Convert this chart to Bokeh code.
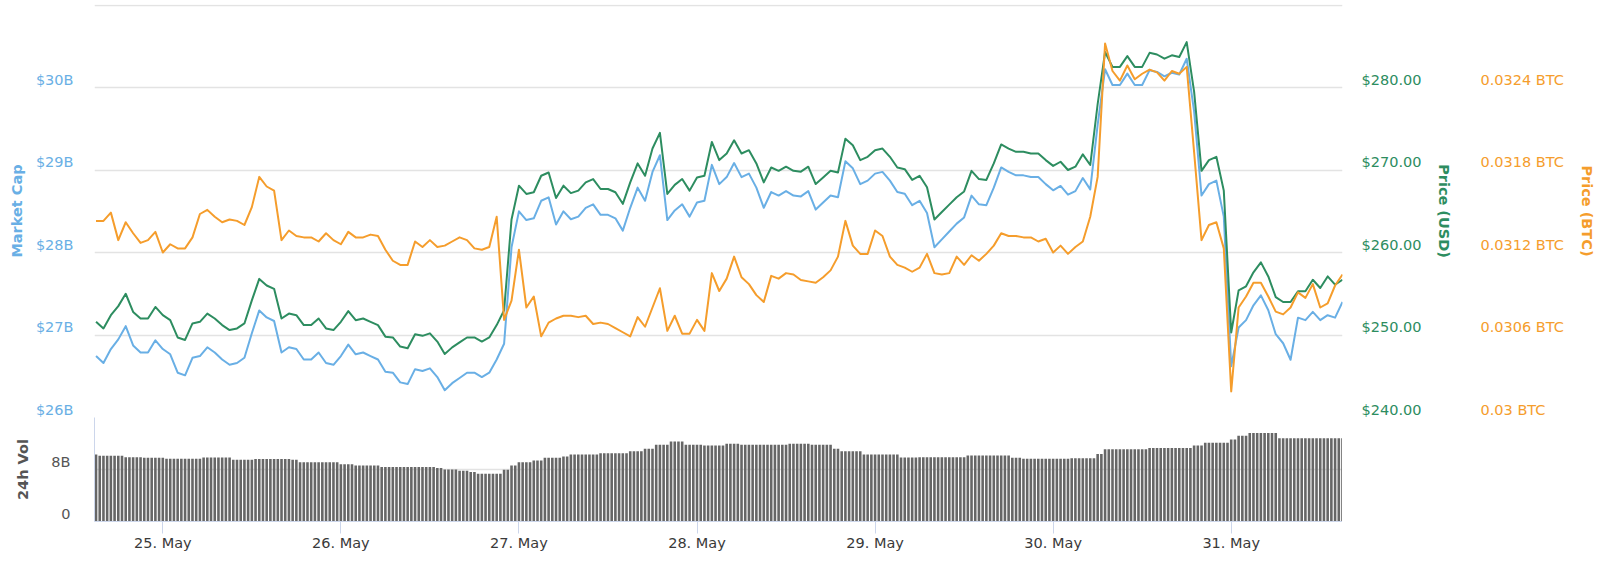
from datetime import datetime, timedelta

from bokeh.plotting import figure
from bokeh.models import (Range1d, LinearAxis, FixedTicker, CustomJSTickFormatter,
                          DatetimeTickFormatter)
from bokeh.layouts import column
from bokeh.embed import file_html
from bokeh.resources import INLINE

# ---------------- data (hourly, from 24 May 15:00) ----------------
start_time = datetime(2019, 5, 24, 15, 0)

price_usd = [
    251.6, 250.8, 252.4, 253.5, 255.0, 252.8, 252.0, 252.0, 253.4, 252.4,
    251.8, 249.7, 249.4, 251.4, 251.6, 252.6, 252.0, 251.2, 250.6, 250.8,
    251.4, 254.2, 256.8, 256.0, 255.6, 252.0, 252.6, 252.4, 251.2, 251.2,
    252.0, 250.8, 250.6, 251.6, 252.9, 251.8, 252.0, 251.6, 251.2, 249.8,
    249.7, 248.6, 248.4, 250.1, 249.9, 250.2, 249.2, 247.7, 248.5, 249.1,
    249.7, 249.7, 249.2, 249.7, 251.2, 253.0, 264.0, 268.1, 267.1, 267.3,
    269.3, 269.7, 266.6, 268.1, 267.2, 267.5, 268.5, 268.9, 267.7, 267.7,
    267.3, 265.9, 268.5, 270.8, 269.3, 272.6, 274.5, 267.1, 268.2, 268.9,
    267.5, 269.1, 269.3, 273.4, 271.2, 272.0, 273.6, 272.0, 272.4, 270.8,
    268.5, 270.3, 269.9, 270.4, 269.9, 269.8, 270.4, 268.3, 269.1, 269.9,
    269.7, 273.8, 273.0, 271.2, 271.6, 272.4, 272.6, 271.6, 270.3, 270.1,
    268.8, 269.3, 267.9, 264.0, 264.9, 265.8, 266.7, 267.4, 269.9, 268.9,
    268.8, 270.8, 273.1, 272.6, 272.2, 272.2, 272.0, 272.0, 271.2, 270.5,
    271.0, 270.0, 270.4, 271.9, 270.6, 278.0, 284.3, 282.5, 282.5, 283.8,
    282.5, 282.5, 284.2, 284.0, 283.5, 283.9, 283.7, 285.5, 279.5, 269.9,
    271.2, 271.6, 267.5, 250.3, 255.4, 255.9, 257.6, 258.8, 257.1, 254.6,
    254.0, 254.0, 255.3, 255.3, 256.7, 255.7, 257.1, 256.1, 256.7,
]

# market cap in billions of USD
market_cap_b = [
    26.745, 26.660, 26.830, 26.947, 27.107, 26.873, 26.788, 26.788, 26.936, 26.830,
    26.766, 26.543, 26.511, 26.724, 26.745, 26.851, 26.788, 26.703, 26.639, 26.660,
    26.724, 27.021, 27.298, 27.213, 27.170, 26.788, 26.851, 26.830, 26.703, 26.703,
    26.788, 26.660, 26.639, 26.745, 26.883, 26.766, 26.788, 26.745, 26.703, 26.554,
    26.543, 26.426, 26.405, 26.586, 26.564, 26.596, 26.490, 26.331, 26.416, 26.479,
    26.543, 26.543, 26.490, 26.543, 26.703, 26.894, 28.063, 28.499, 28.393, 28.414,
    28.627, 28.669, 28.340, 28.499, 28.403, 28.435, 28.542, 28.584, 28.457, 28.457,
    28.414, 28.265, 28.542, 28.786, 28.627, 28.977, 29.179, 28.393, 28.510, 28.584,
    28.435, 28.605, 28.627, 29.062, 28.829, 28.914, 29.084, 28.914, 28.956, 28.786,
    28.542, 28.733, 28.690, 28.744, 28.690, 28.680, 28.744, 28.520, 28.605, 28.690,
    28.669, 29.105, 29.020, 28.829, 28.871, 28.956, 28.977, 28.871, 28.733, 28.712,
    28.573, 28.627, 28.478, 28.063, 28.159, 28.255, 28.350, 28.425, 28.690, 28.584,
    28.573, 28.786, 29.031, 28.977, 28.935, 28.935, 28.914, 28.914, 28.829, 28.754,
    28.807, 28.701, 28.744, 28.903, 28.765, 29.551, 30.221, 30.030, 30.030, 30.168,
    30.030, 30.030, 30.210, 30.189, 30.136, 30.179, 30.157, 30.349, 29.711, 28.690,
    28.829, 28.871, 28.435, 26.620, 27.090, 27.180, 27.360, 27.480, 27.300, 27.010,
    26.900, 26.700, 27.210, 27.180, 27.280, 27.180, 27.240, 27.210, 27.400,
]

price_btc = [
    0.03143, 0.03143, 0.03149, 0.03129, 0.03142, 0.03134, 0.03127, 0.03129, 0.03135, 0.03120,
    0.03126, 0.03123, 0.03123, 0.03131, 0.03148, 0.03151, 0.03146, 0.03142, 0.03144, 0.03143,
    0.03140, 0.03153, 0.03175, 0.03168, 0.03165, 0.03129, 0.03136, 0.03132, 0.03131, 0.03131,
    0.03128, 0.03134, 0.03129, 0.03126, 0.03135, 0.03131, 0.03131, 0.03133, 0.03132, 0.03122,
    0.03114, 0.03111, 0.03111, 0.03128, 0.03124, 0.03129, 0.03124, 0.03125, 0.03128, 0.03131,
    0.03129, 0.03123, 0.03122, 0.03124, 0.03146, 0.03071, 0.03085, 0.03122, 0.03080, 0.03088,
    0.03059, 0.03069, 0.03072, 0.03074, 0.03074, 0.03073, 0.03074, 0.03068, 0.03069, 0.03068,
    0.03065, 0.03062, 0.03059, 0.03073, 0.03066, 0.03080, 0.03094, 0.03063, 0.03074, 0.03061,
    0.03061, 0.03071, 0.03063, 0.03105, 0.03092, 0.03101, 0.03117, 0.03102, 0.03097, 0.03089,
    0.03084, 0.03103, 0.03101, 0.03105, 0.03104, 0.03100, 0.03099, 0.03098, 0.03102, 0.03107,
    0.03117, 0.03143, 0.03125, 0.03119, 0.03119, 0.03136, 0.03132, 0.03117, 0.03111, 0.03109,
    0.03106, 0.03109, 0.03119, 0.03105, 0.03104, 0.03105, 0.03117, 0.03111, 0.03118, 0.03114,
    0.03119, 0.03125, 0.03134, 0.03132, 0.03132, 0.03131, 0.03131, 0.03128, 0.03130, 0.03120,
    0.03125, 0.03119, 0.03124, 0.03128, 0.03146, 0.03175, 0.03272, 0.03252, 0.03245, 0.03256,
    0.03246, 0.03250, 0.03253, 0.03251, 0.03245, 0.03252, 0.03250, 0.03255, 0.03193, 0.03129,
    0.03140, 0.03142, 0.03123, 0.03019, 0.03080, 0.03088, 0.03098, 0.03098, 0.03088, 0.03077,
    0.03075, 0.03080, 0.03091, 0.03087, 0.03097, 0.03080, 0.03083, 0.03096, 0.03104,
]

# 24h volume in billions of USD, half-hourly bars, run-length encoded (value, count)
vol_values = [10.3, 10.1, 9.9, 9.8, 9.65, 9.85, 9.5, 9.6, 9.5, 9.1, 8.8, 8.6, 8.4, 8.25,
              8.0, 7.8, 7.6, 7.34, 7.95, 8.6, 9.1, 9.4, 9.8, 10.0, 10.3, 10.5, 10.8, 11.2,
              11.8, 12.3, 11.8, 11.7, 11.95, 11.8, 11.95, 11.8, 11.2, 10.8, 10.3, 9.85, 9.9,
              10.15, 9.8, 9.65, 9.75, 10.4, 11.1, 11.3, 11.7, 12.1, 12.6, 13.2, 13.6, 12.8]
vol_counts = [1, 7, 5, 6, 10, 8, 6, 10, 2, 11, 4, 7, 15, 2, 4, 3, 2, 7, 2, 2, 4, 3, 5, 2,
              8, 8, 4, 3, 4, 4, 5, 6, 4, 13, 6, 6, 2, 6, 10, 5, 13, 12, 3, 13, 7, 2, 12, 12,
              3, 7, 2, 3, 8, 18]

cap_ticks = [26, 27, 28, 29, 30, 31]
usd_ticks = [240, 250, 260, 270, 280]
btc_ticks = [0.03, 0.0306, 0.0312, 0.0318, 0.0324]
vol_ticks = [0, 8]
day_ticks = [datetime(2019, 5, d) for d in range(25, 32)]

# ---------------- derived series positions ----------------
times = [start_time + timedelta(hours=i) for i in range(len(price_usd))]
volume_b = [v for v, c in zip(vol_values, vol_counts) for _ in range(c)]
vol_times = [start_time + timedelta(minutes=30 * i) for i in range(len(volume_b))]

EPOCH = datetime(1970, 1, 1)
def ms(d):
    return (d - EPOCH).total_seconds() * 1000.0

# ---------------- styling ----------------
FONT = "DejaVu Sans"
FS = "14.5px"
BLUE = "#69AFE5"
GREEN = "#2D8D60"
ORANGE = "#F59D2C"
GRID = "#e3e3e3"
AXIS = "#ccd6eb"
VOLC = "#666666"

FRAME_W = 1248
MAIN_H = 413          # px of main pane
PX_PER_CAP = 82.5     # px per 1B of market cap
VOL_H = 104
LEFT = 94
LABEL_LIFT = 8        # tick labels sit this many px above their grid line

x_range = Range1d(start=datetime(2019, 5, 24, 14, 47, 36), end=datetime(2019, 5, 31, 15, 0))

cap_span = MAIN_H / PX_PER_CAP
usd_span = cap_span * 10
btc_span = cap_span * 0.0006

# ---------------- main pane ----------------
p = figure(frame_width=FRAME_W, frame_height=MAIN_H, x_axis_type="datetime",
           x_axis_location=None, x_range=x_range,
           y_range=Range1d(26, 26 + cap_span),
           output_backend="svg", toolbar_location=None,
           min_border_left=LEFT, min_border_top=4, min_border_bottom=0, min_border_right=0)
p.extra_y_ranges = {
    "usd": Range1d(240, 240 + usd_span),
    "btc": Range1d(0.03, 0.03 + btc_span),
}
p.outline_line_color = None
for g in p.xgrid:
    g.visible = False
p.ygrid.ticker = FixedTicker(ticks=cap_ticks)
p.ygrid.grid_line_color = GRID
p.ygrid.grid_line_width = 1.5


def style_axis(ax, color, standoff, label_standoff):
    ax.axis_line_color = None
    ax.major_tick_line_color = None
    ax.minor_tick_line_color = None
    ax.major_tick_out = 0
    ax.major_tick_in = 0
    ax.major_label_standoff = standoff
    ax.major_label_text_font = FONT
    ax.major_label_text_font_size = FS
    ax.major_label_text_color = color
    ax.axis_label_standoff = label_standoff
    ax.axis_label_text_font = FONT
    ax.axis_label_text_font_size = FS
    ax.axis_label_text_font_style = "bold"
    ax.axis_label_text_color = color


def lifted(ticks, span, height):
    # label anchors a few px above each grid value (labels drawn above grid lines)
    return [t + LABEL_LIFT * span / height for t in ticks]


cap_axis = p.yaxis[0]
cap_axis.ticker = FixedTicker(ticks=lifted(cap_ticks[:-1], cap_span, MAIN_H))
cap_axis.formatter = CustomJSTickFormatter(code="return '$' + Math.round(tick) + 'B';")
cap_axis.axis_label = "Market Cap"
style_axis(cap_axis, BLUE, 21, 8)

usd_axis = LinearAxis(y_range_name="usd",
                      ticker=FixedTicker(ticks=lifted(usd_ticks, usd_span, MAIN_H)),
                      formatter=CustomJSTickFormatter(
                          code="return '$' + (Math.round(tick / 10) * 10).toFixed(2);"),
                      axis_label="Price (USD)")
style_axis(usd_axis, GREEN, 19, 12)
p.add_layout(usd_axis, "right")

btc_axis = LinearAxis(y_range_name="btc",
                      ticker=FixedTicker(ticks=lifted(btc_ticks, btc_span, MAIN_H)),
                      formatter=CustomJSTickFormatter(
                          code="return parseFloat((Math.round(tick / 0.0006) * 0.0006).toFixed(4)) + ' BTC';"),
                      axis_label="Price (BTC)")
style_axis(btc_axis, ORANGE, 25, 12)
p.add_layout(btc_axis, "right")

p.line(times, market_cap_b, line_color=BLUE, line_width=2, line_join="round")
p.line(times, price_usd, y_range_name="usd", line_color=GREEN, line_width=2, line_join="round")
p.line(times, price_btc, y_range_name="btc", line_color=ORANGE, line_width=2, line_join="round")

# ---------------- volume pane ----------------
v = figure(frame_width=FRAME_W, frame_height=VOL_H, x_axis_type="datetime",
           x_range=x_range, y_range=Range1d(0, 16),
           output_backend="svg", toolbar_location=None,
           min_border_left=LEFT, min_border_top=0, min_border_bottom=0, min_border_right=0)
v.outline_line_color = None
v.xgrid.visible = False
v.ygrid.ticker = FixedTicker(ticks=[8, 16])
v.ygrid.grid_line_color = GRID
v.ygrid.grid_line_width = 1.5

v.vbar(x=vol_times, top=volume_b, width=30 * 60 * 1000 * 0.7, fill_color=VOLC, line_color=None)

vy = v.yaxis[0]
vy.ticker = FixedTicker(ticks=lifted(vol_ticks, 16, VOL_H))
vy.formatter = CustomJSTickFormatter(
    code="var t = Math.round(tick / 8) * 8; return t == 0 ? '0' : t + 'B';")
vy.axis_label = "24h Vol"
style_axis(vy, "#555555", 24, 17)
vy.axis_line_color = AXIS
vy.axis_line_width = 1

vx = v.xaxis[0]
vx.ticker = FixedTicker(ticks=[ms(d) for d in day_ticks])
vx.formatter = DatetimeTickFormatter(days="%d. %b", months="%d. %b", hours="%d. %b",
                                     hourmin="%d. %b", minutes="%d. %b", years="%d. %b")
vx.axis_line_color = AXIS
vx.major_tick_line_color = AXIS
vx.minor_tick_line_color = None
vx.major_tick_out = 12
vx.major_tick_in = 0
vx.major_label_standoff = 1
vx.major_label_text_font = FONT
vx.major_label_text_font_size = FS
vx.major_label_text_color = "#3a3a3a"

layout = column(p, v, spacing=0)
open("out.html", "w").write(file_html(layout, INLINE))
